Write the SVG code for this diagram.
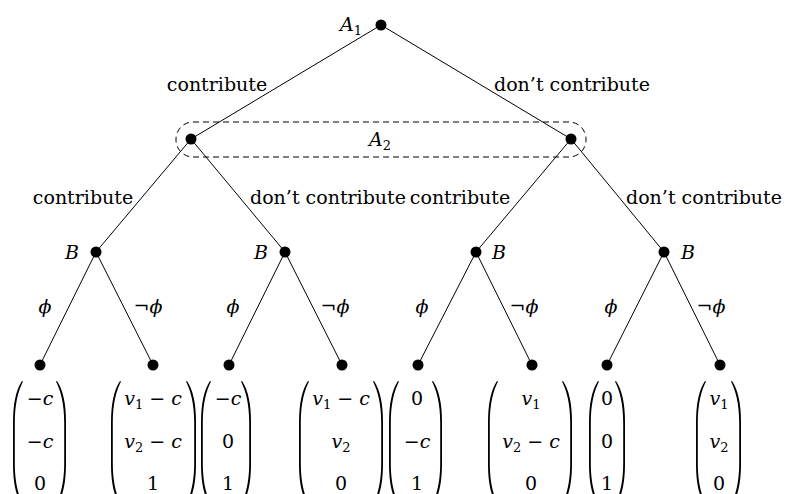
<svg xmlns="http://www.w3.org/2000/svg" xmlns:xlink="http://www.w3.org/1999/xlink" width="787" height="494" viewBox="0 0 787 494">
<style>
  .edge { stroke: #000; stroke-width: 1; fill: none; }
  .dot { fill: #000; }
  .lbl { font-family: "DejaVu Serif", "Liberation Serif", serif; font-size: 19px; fill: #000; text-anchor: middle; }
  .m { font-family: "DejaVu Serif", "Liberation Serif", serif; font-style: italic; font-size: 19px; fill: #000; text-anchor: middle; }
  .n { font-style: normal; }
  .paren { fill: #000; }
  .info { fill: none; stroke: #000; stroke-width: 1; stroke-dasharray: 6 4; }
</style>
<defs>
  <path id="lp" class="paren" d="M10,0 C4,9 1,22 1,42 L1,82 C1,102 4,115 10,124 L11,123.4 C6.2,114 2.8,101 2.8,82 L2.8,42 C2.8,23 6.2,10 11,0.6 Z"/>
</defs>

<g id="connectors">
  <line class="edge" x1="381" y1="25" x2="191" y2="139"/>
  <line class="edge" x1="381" y1="25" x2="571" y2="139"/>
  <line class="edge" x1="191" y1="139" x2="96" y2="252"/>
  <line class="edge" x1="191" y1="139" x2="285" y2="252"/>
  <line class="edge" x1="571" y1="139" x2="476" y2="252"/>
  <line class="edge" x1="571" y1="139" x2="664" y2="252"/>
  <line class="edge" x1="96" y1="252" x2="40" y2="365"/>
  <line class="edge" x1="96" y1="252" x2="153" y2="365"/>
  <line class="edge" x1="285" y1="252" x2="229" y2="365"/>
  <line class="edge" x1="285" y1="252" x2="342" y2="365"/>
  <line class="edge" x1="476" y1="252" x2="418" y2="365"/>
  <line class="edge" x1="476" y1="252" x2="532" y2="365"/>
  <line class="edge" x1="664" y1="252" x2="607" y2="365"/>
  <line class="edge" x1="664" y1="252" x2="720" y2="365"/>
  <text class="lbl" x="217" y="91">contribute</text>
  <text class="lbl" x="572" y="91">don’t contribute</text>
  <text class="lbl" x="83" y="204">contribute</text>
  <text class="lbl" x="328" y="204">don’t contribute</text>
  <text class="lbl" x="460" y="204">contribute</text>
  <text class="lbl" x="704" y="204">don’t contribute</text>
  <text class="m" x="45" y="313">ϕ</text>
  <text class="m" x="148" y="313"><tspan class="n">¬</tspan>ϕ</text>
  <text class="m" x="233" y="313">ϕ</text>
  <text class="m" x="335" y="313"><tspan class="n">¬</tspan>ϕ</text>
  <text class="m" x="422" y="313">ϕ</text>
  <text class="m" x="524" y="313"><tspan class="n">¬</tspan>ϕ</text>
  <text class="m" x="611" y="313">ϕ</text>
  <text class="m" x="711" y="313"><tspan class="n">¬</tspan>ϕ</text>
</g>

<g id="infoset-A2">
  <rect class="info" x="176" y="122" width="410" height="35" rx="17" ry="17"/>
  <text class="m" x="380" y="146">A<tspan font-size="13" class="n" dy="4">2</tspan></text>
</g>

<g id="node-A1">
  <circle class="dot" cx="381" cy="25" r="5.5"/>
  <text class="m" x="351" y="31">A<tspan font-size="13" class="n" dy="4">1</tspan></text>
</g>
<g id="node-A2-left"><circle class="dot" cx="191" cy="139" r="5.5"/></g>
<g id="node-A2-right"><circle class="dot" cx="571" cy="139" r="5.5"/></g>

<g id="node-B1">
  <circle class="dot" cx="96" cy="252" r="5.5"/>
  <text class="m" x="72" y="259">B</text>
</g>
<g id="node-B2">
  <circle class="dot" cx="285" cy="252" r="5.5"/>
  <text class="m" x="261" y="259">B</text>
</g>
<g id="node-B3">
  <circle class="dot" cx="476" cy="252" r="5.5"/>
  <text class="m" x="499" y="259">B</text>
</g>
<g id="node-B4">
  <circle class="dot" cx="664" cy="252" r="5.5"/>
  <text class="m" x="688" y="259">B</text>
</g>

<g id="leaf-1">
  <circle class="dot" cx="40" cy="365" r="5.5"/>
  <use xlink:href="#lp" href="#lp" transform="translate(12,381)"/>
  <use xlink:href="#lp" href="#lp" transform="translate(67,381) scale(-1,1)"/>
  <text class="m" x="40" y="405"><tspan class="n">−</tspan>c</text>
  <text class="m" x="40" y="448"><tspan class="n">−</tspan>c</text>
  <text class="m n" x="40" y="490">0</text>
</g>
<g id="leaf-2">
  <circle class="dot" cx="153" cy="365" r="5.5"/>
  <use xlink:href="#lp" href="#lp" transform="translate(110,381)"/>
  <use xlink:href="#lp" href="#lp" transform="translate(197,381) scale(-1,1)"/>
  <text class="m" x="153" y="405">v<tspan class="n" font-size="13" dy="4">1</tspan><tspan class="n" dy="-4"> − </tspan>c</text>
  <text class="m" x="153" y="448">v<tspan class="n" font-size="13" dy="4">2</tspan><tspan class="n" dy="-4"> − </tspan>c</text>
  <text class="m n" x="153" y="490">1</text>
</g>
<g id="leaf-3">
  <circle class="dot" cx="229" cy="365" r="5.5"/>
  <use xlink:href="#lp" href="#lp" transform="translate(200,381)"/>
  <use xlink:href="#lp" href="#lp" transform="translate(252,381) scale(-1,1)"/>
  <text class="m" x="228" y="405"><tspan class="n">−</tspan>c</text>
  <text class="m n" x="228" y="448">0</text>
  <text class="m n" x="228" y="490">1</text>
</g>
<g id="leaf-4">
  <circle class="dot" cx="342" cy="365" r="5.5"/>
  <use xlink:href="#lp" href="#lp" transform="translate(298,381)"/>
  <use xlink:href="#lp" href="#lp" transform="translate(384,381) scale(-1,1)"/>
  <text class="m" x="341" y="405">v<tspan class="n" font-size="13" dy="4">1</tspan><tspan class="n" dy="-4"> − </tspan>c</text>
  <text class="m" x="341" y="448">v<tspan class="n" font-size="13" dy="4">2</tspan></text>
  <text class="m n" x="341" y="490">0</text>
</g>
<g id="leaf-5">
  <circle class="dot" cx="418" cy="365" r="5.5"/>
  <use xlink:href="#lp" href="#lp" transform="translate(388,381)"/>
  <use xlink:href="#lp" href="#lp" transform="translate(443,381) scale(-1,1)"/>
  <text class="m n" x="417" y="405">0</text>
  <text class="m" x="417" y="448"><tspan class="n">−</tspan>c</text>
  <text class="m n" x="417" y="490">1</text>
</g>
<g id="leaf-6">
  <circle class="dot" cx="532" cy="365" r="5.5"/>
  <use xlink:href="#lp" href="#lp" transform="translate(487,381)"/>
  <use xlink:href="#lp" href="#lp" transform="translate(573,381) scale(-1,1)"/>
  <text class="m" x="531" y="405">v<tspan class="n" font-size="13" dy="4">1</tspan></text>
  <text class="m" x="531" y="448">v<tspan class="n" font-size="13" dy="4">2</tspan><tspan class="n" dy="-4"> − </tspan>c</text>
  <text class="m n" x="531" y="490">0</text>
</g>
<g id="leaf-7">
  <circle class="dot" cx="607" cy="365" r="5.5"/>
  <use xlink:href="#lp" href="#lp" transform="translate(588,381)"/>
  <use xlink:href="#lp" href="#lp" transform="translate(626,381) scale(-1,1)"/>
  <text class="m n" x="607" y="405">0</text>
  <text class="m n" x="607" y="448">0</text>
  <text class="m n" x="607" y="490">1</text>
</g>
<g id="leaf-8">
  <circle class="dot" cx="720" cy="365" r="5.5"/>
  <use xlink:href="#lp" href="#lp" transform="translate(695,381)"/>
  <use xlink:href="#lp" href="#lp" transform="translate(742,381) scale(-1,1)"/>
  <text class="m" x="719" y="405">v<tspan class="n" font-size="13" dy="4">1</tspan></text>
  <text class="m" x="719" y="448">v<tspan class="n" font-size="13" dy="4">2</tspan></text>
  <text class="m n" x="719" y="490">0</text>
</g>
</svg>
